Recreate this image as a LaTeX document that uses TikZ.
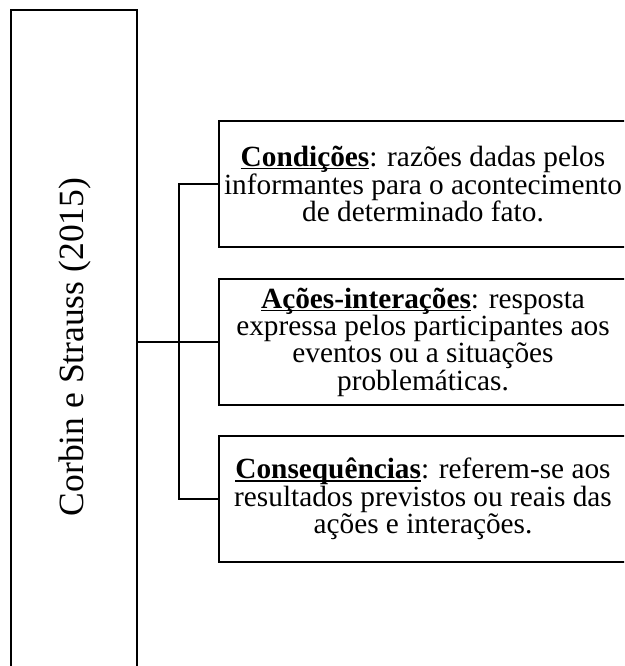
\documentclass[tikz,border=0pt]{standalone}
\usepackage{fontspec}
\setmainfont{Liberation Serif}
\usepackage{tikz}
\def\termo#1{\setbox0\hbox{\textbf{#1}}\rlap{\rule[-2.8pt]{\wd0}{1.3pt}}\box0}

\begin{document}
\begin{tikzpicture}[x=1pt,y=-1pt,line width=1.3pt,
    caixa/.style={draw,minimum width=408pt,minimum height=126pt,align=center,
        inner sep=0pt,font=\fontsize{29.3}{25.5}\selectfont}]
                \useasboundingbox (0,0) rectangle (624,666);
                \clip (0,0) rectangle (624,666);
                \node[draw,minimum width=126pt,minimum height=670pt] (autor) at (74,345) {};
                \node[rotate=90,font=\fontsize{35.5}{40}\selectfont] (nome) at (75,347) {Corbin e Strauss (2015)};
                \node[caixa] (cond) at (423,184) {\termo{Condições}: razões dadas pelos\\informantes para o acontecimento\\de determinado fato.};
                \node[caixa] (acoes) at (423,342) {\termo{Ações-interações}: resposta\\expressa pelos participantes aos\\eventos ou a situações\\problemáticas.};
                \node[caixa] (cons) at (423,499) {\termo{Consequências}: referem-se aos\\resultados previstos ou reais das\\ações e interações.};
                \coordinate (bus) at (179,342);
                \draw (autor.east |- acoes.west) -- (acoes.west);
                \draw (cond.west) -| (bus) |- (cons.west);
            \end{tikzpicture}
\end{document}
